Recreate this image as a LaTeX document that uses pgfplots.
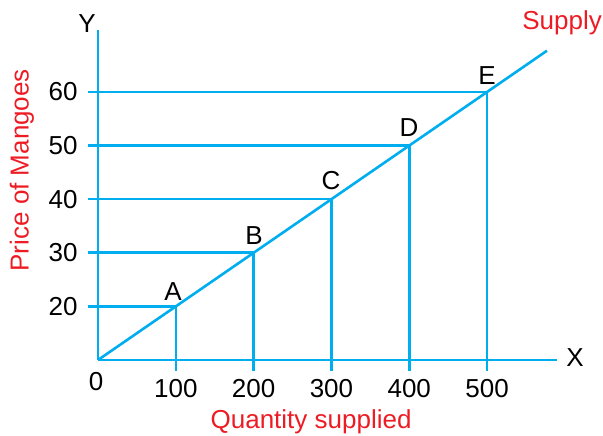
\documentclass[border=0pt]{standalone}
\usepackage{pgfplots}
\pgfplotsset{compat=1.18}
\usepackage{fontspec}
\setmainfont{Liberation Sans}
\definecolor{cy}{HTML}{00AEEF}
\definecolor{rd}{HTML}{ED1C24}
\definecolor{tx}{HTML}{231F20}
\pgfplotsset{sl/.style={cy, solid, line width=1.3pt, mark=none}}
\begin{document}
\fontsize{13}{15}\selectfont
\begin{tikzpicture}[font=\fontsize{13}{15}\selectfont]
\begin{axis}[
  hide axis, scale only axis, clip=false,
  width=301.5pt, height=218pt,
  xmin=-126, xmax=649, ymin=-4.18, ymax=77.16,
  every node/.append style={text=tx, inner sep=0pt},
]
% axes
\addplot[sl] coordinates {(0,10) (590,10)};
\addplot[sl] coordinates {(0,10) (0,71.6)};
% supply curve
\addplot[sl] coordinates {(0,10) (100,20) (200,30) (300,40) (400,50) (500,60) (577,67.7)};
% horizontal guides
\addplot[sl] coordinates {(-12.9,20) (100,20)};
\addplot[sl] coordinates {(-12.9,30) (200,30)};
\addplot[sl] coordinates {(-12.9,40) (300,40)};
\addplot[sl] coordinates {(-12.9,50) (400,50)};
\addplot[sl] coordinates {(-12.9,60) (500,60)};
% vertical guides
\addplot[sl] coordinates {(100,7.95) (100,20)};
\addplot[sl] coordinates {(200,7.95) (200,30)};
\addplot[sl] coordinates {(300,7.95) (300,40)};
\addplot[sl] coordinates {(400,7.95) (400,50)};
\addplot[sl] coordinates {(500,7.95) (500,60)};
% tick labels
\node at (axis cs:-45,20) {20};
\node at (axis cs:-45,30) {30};
\node at (axis cs:-45,40) {40};
\node at (axis cs:-45,50) {50};
\node at (axis cs:-45,60) {60};
\node at (axis cs:100,4.6) {100};
\node at (axis cs:200,4.6) {200};
\node at (axis cs:300,4.6) {300};
\node at (axis cs:400,4.6) {400};
\node at (axis cs:500,4.6) {500};
\node at (axis cs:-2.6,5.9) {0};
% point labels
\node at (axis cs:96.4,22.7) {A};
\node at (axis cs:200.5,33.3) {B};
\node at (axis cs:299.5,43.4) {C};
\node at (axis cs:399.7,53.3) {D};
\node at (axis cs:500,63) {E};
% axis letters
\node at (axis cs:-14.1,72.7) {Y};
\node at (axis cs:613,10.4) {X};
% titles
\node[text=rd] at (axis cs:596.5,72.9) {Supply};
\node[text=rd, rotate=90] at (axis cs:-97.7,45.4) {Price of Mangoes};
\node[text=rd] at (axis cs:273.8,-1.57) {Quantity supplied};
\end{axis}
\pgfresetboundingbox
\path (current axis.south west) rectangle (current axis.north east);
\end{tikzpicture}
\end{document}
